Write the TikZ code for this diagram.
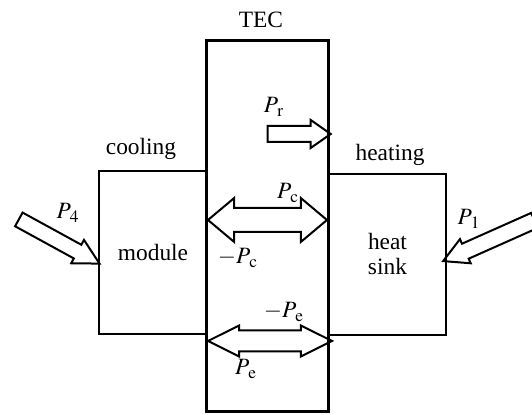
\documentclass[tikz,border=0pt]{standalone}
\usepackage{mathptmx}
\usepackage{fontspec}
\setmainfont{Liberation Serif}
\usetikzlibrary{shapes.arrows,positioning}
\tikzstyle{box} = [draw, line width=1pt, inner sep=0pt]
\tikzstyle{flow} = [draw, line width=1pt, inner xsep=0pt, minimum width=0pt]
\tikzstyle{lbl} = [inner sep=0pt]

\begin{document}
\begin{tikzpicture}[x=0.5pt, y=-0.5pt, font=\fontsize{11.7}{12.5}\selectfont]
    \useasboundingbox (0,0) rectangle (532,415);
    % blocks
    \node[box, minimum width=54pt, minimum height=81.5pt] (module) at (153,252.5) {module};
    \node[box, minimum width=58.5pt, minimum height=80.5pt, align=center] (sink) at (387.5,254.5) {heat\\sink};
    \node[box, line width=1.5pt, minimum width=61pt, minimum height=185.5pt] (tec) at (268,226.5) {};
    \node[lbl] (teclbl) at (261,20) {TEC};
    \node[lbl] (cool) at (141,149) {cooling};
    \node[lbl] (heat) at (390,155) {heating};
    % power flows
    \node[flow, single arrow, inner ysep=3.5pt, single arrow head extend=3pt,
          single arrow tip angle=70, minimum height=31.5pt] (pr) at (293.5,134) {};
    \node[flow, double arrow, inner ysep=5.5pt, double arrow head extend=5pt,
          double arrow tip angle=80, minimum height=59.5pt] (pc) at (267.5,220) {};
    \node[flow, double arrow, inner ysep=4.75pt, double arrow head extend=2.5pt,
          double arrow tip angle=53, minimum height=62pt] (pe) at (270,341) {};
    \node[flow, single arrow, rotate=-28.7, inner ysep=3.4pt, single arrow head extend=2.75pt,
          single arrow tip angle=56, minimum height=46pt] (p4) at (52.75,238) {};
    \node[flow, single arrow, rotate=204, inner ysep=3.6pt, single arrow head extend=2.5pt,
          single arrow tip angle=57, minimum height=50pt] (p1) at (495.7,237.7) {};
    % labels
    \node[lbl] (prlbl) at (274,107) {$P_{\,\mathrm{r}}$};
    \node[lbl] (pclbl) at (288,193) {$P_{\,\mathrm{c}}$};
    \node[lbl] (mpclbl) at (238,258) {$-P_{\,\mathrm{c}}$};
    \node[lbl] (mpelbl) at (284,312) {$-P_{\,\mathrm{e}}$};
    \node[lbl] (pelbl) at (246,369) {$P_{\,\mathrm{e}}$};
    \node[lbl] (p4lbl) at (68,213) {$P_{\,4}$};
    \node[lbl] (p1lbl) at (469,219) {$P_{\,1}$};
\end{tikzpicture}
\end{document}
